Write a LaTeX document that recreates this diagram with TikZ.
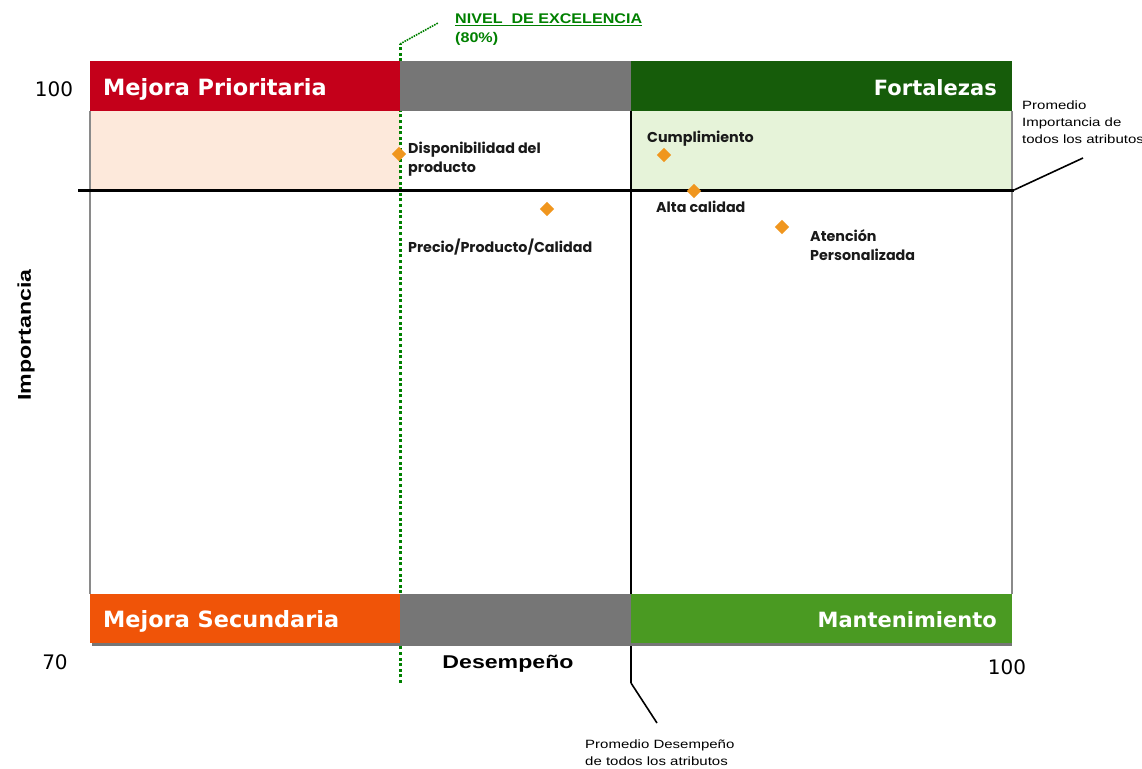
\documentclass[tikz,border=0pt]{standalone}
\usepackage{fontspec}
\setmainfont{Liberation Sans}
\newfontfamily\barfont{DejaVu Sans}
\newfontfamily\ptfont{Poppins}
\newfontfamily\wideA[FakeStretch=1.25]{Liberation Sans}
\newfontfamily\wideB[FakeStretch=1.15]{Liberation Sans}
\usetikzlibrary{shapes.geometric}
\definecolor{cRed}{RGB}{196,0,26}
\definecolor{cGray}{RGB}{118,118,118}
\definecolor{cDkGreen}{RGB}{22,92,10}
\definecolor{cOrange}{RGB}{240,84,8}
\definecolor{cGreen}{RGB}{74,154,34}
\definecolor{cPeach}{RGB}{253,233,219}
\definecolor{cLtGreen}{RGB}{230,243,217}
\definecolor{cDot}{RGB}{240,150,30}
\definecolor{cExc}{RGB}{0,128,0}
\definecolor{cFrame}{RGB}{138,138,138}
\definecolor{cTxt}{RGB}{26,26,26}
\begin{document}
\begin{tikzpicture}[x=1pt,y=-1pt,
  bartxt/.style={font=\barfont\bfseries\fontsize{21}{25}\selectfont, text=white, inner sep=0},
  bartxtL/.style={font=\barfont\bfseries\fontsize{22.4}{26}\selectfont, text=white, inner sep=0},
  ptlabel/.style={font=\ptfont\bfseries\fontsize{14.3}{19}\selectfont, text=cTxt, inner sep=0, align=left},
  pt/.style={diamond, fill=cDot, inner sep=0, minimum size=14.5pt},
  ann/.style={font=\wideA\fontsize{12}{17}\selectfont, align=left, inner sep=0},
  num/.style={font=\barfont\fontsize{20}{24}\selectfont, inner sep=0},
  axlbl/.style={font=\wideA\bfseries\fontsize{18.5}{22}\selectfont, inner sep=0},
  leader/.style={line width=1.6pt, black}
]
\useasboundingbox (0,0) rectangle (1142,768);
% quadrant fills
\fill[cPeach] (90,111) rectangle (400,190);
\fill[cLtGreen] (631,111) rectangle (1012,190);
% frame
\draw[cFrame, line width=1.5pt] (90,111) -- (90,594);
\draw[cFrame, line width=1.5pt] (1012,111) -- (1012,594);
% excellence line
\coordinate (e0) at (400,683);
\coordinate (e1) at (400,44);
\coordinate (e2) at (438,23);
\draw[cExc, line width=3pt, dash pattern=on 3pt off 2.6pt] (e0) -- (e1);
\draw[cExc, line width=1.6pt, densely dotted] (e1) -- (e2);
% average performance line
\coordinate (d0) at (631,111);
\coordinate (d1) at (631,683);
\coordinate (d2) at (657,723);
\draw[black, line width=2.6pt] (d0) -- (d1);
\draw[leader] (d1) -- (d2);
% bars
\fill[cGray] (92,597) rectangle (1012,646);
\fill[cRed] (90,61) rectangle (400,111);
\fill[cGray] (400,61) rectangle (631,111);
\fill[cDkGreen] (631,61) rectangle (1012,111);
\fill[cOrange] (90,594) rectangle (400,643);
\fill[cGray] (400,594) rectangle (631,643);
\fill[cGreen] (631,594) rectangle (1012,643);
\node[bartxtL, anchor=base west] (mp) at (103,95) {Mejora Prioritaria};
\node[bartxt, anchor=base east] (fo) at (997,95) {Fortalezas};
\node[bartxtL, anchor=base west] (ms) at (103,627) {Mejora Secundaria};
\node[bartxt, anchor=base east] (ma) at (997,627) {Mantenimiento};
% average importance line
\coordinate (h0) at (78,190);
\coordinate (h1) at (1014,190);
\coordinate (h2) at (1083,158);
\draw[black, line width=3pt] (h0) -- (h1);
\draw[leader] (h1) -- (h2);
% axis numbers and titles
\node[num] (y100) at (54,89) {100};
\node[num] (y70) at (55,662) {70};
\node[num] (x100) at (1007,667) {100};
\node[axlbl] (xl) at (508,664) {Desempeño};
\node[axlbl, rotate=90] (yl) at (26,335) {Importancia};
% excellence label
\node[font=\wideB\bfseries\fontsize{14}{18}\selectfont, text=cExc, align=left, inner sep=0, anchor=base west] (exc) at (455,42) {\underline{NIVEL\ \ DE EXCELENCIA}\\(80\%)};
% annotations
\node[ann, anchor=base west] (ai) at (1022,143) {Promedio\\Importancia de\\todos los atributos};
\node[ann, anchor=base west] (ad) at (585,765) {Promedio Desempeño\\de todos los atributos};
% points
\node[pt] (p1) at (399,154) {};
\node[pt] (p2) at (547,209) {};
\node[pt] (p3) at (664,155) {};
\node[pt] (p4) at (694,191) {};
\node[pt] (p5) at (782,227) {};
\node[ptlabel, anchor=base west] (l1) at (408,172) {Disponibilidad del\\producto};
\node[ptlabel, anchor=base west] (l2) at (408,252) {Precio/Producto/Calidad};
\node[ptlabel, anchor=base west] (l3) at (647,142) {Cumplimiento};
\node[ptlabel, anchor=base west] (l4) at (656,212) {Alta calidad};
\node[ptlabel, anchor=base west] (l5) at (810,260) {Atención\\Personalizada};
\end{tikzpicture}
\end{document}
